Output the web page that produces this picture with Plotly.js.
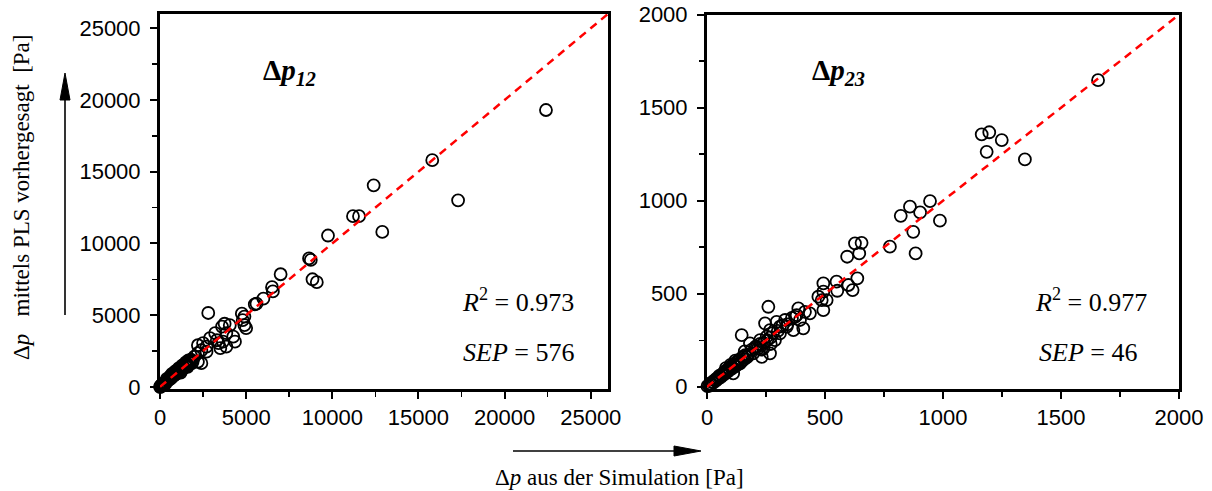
<!DOCTYPE html>
<html>
<head>
<meta charset="utf-8">
<script src="https://cdn.plot.ly/plotly-3.0.1.min.js"></script>
<style>html,body{margin:0;padding:0;background:#fff;}#chart{width:1212px;height:491px;}</style>
</head>
<body>
<div id="chart"></div>
<script>
// ---- Data: Δp12 (left panel) ----
const sim12 = [22400,15800,17300,12400,11200,11550,9750,12900,8650,8750,8850,9100,7000,6500,6550,6000,5600,5500,
  2800,4750,4900,4800,4900,5000,3750,4050,3600,3850,4250,4350,3650,3850,3200,2900,3300,3500,3400,2200,2500,2700,2400,2700,2200,2000,1650,1850,2200,2400,
  0,30,50,70,100,120,150,200,200,250,300,300,350,400,400,450,500,550,600,600,650,700,700,750,800,800,850,900,900,950,1000,1000,1050,1100,1100,1150,1200,1200,1250,1300,1300,1350,1400,1450,1500,1500,1550,1600,1600,1700,1750,1800,1900];
const pls12 = [19300,15800,13000,14050,11900,11900,10550,10800,8950,8850,7500,7300,7850,6950,6650,6150,5800,5750,
  5150,5100,4900,4650,4300,4100,4400,4300,4200,3750,3500,3150,3150,2800,3750,3400,3250,2700,3050,2900,3050,2800,2550,2450,2350,2100,1850,1650,1750,1650,
  0,0,60,100,80,150,170,220,100,230,310,200,330,420,550,440,520,530,640,750,600,720,900,760,780,950,900,870,1100,1000,950,1150,1100,1050,1300,1200,1150,1000,1300,1250,1500,1400,1320,1500,1450,1700,1600,1500,1400,1750,1650,1900,1800];

// ---- Data: Δp23 (right panel) ----
const sim23 = [1657,1164,1196,1249,1185,1347,945,860,903,821,987,874,884,775,627,655,594,645,637,549,599,617,552,493,472,493,486,507,493,387,415,436,394,373,408,331,338,366,260,147,
  246,295,309,267,253,288,225,309,182,211,239,196,168,232,267,
  2,8,12,18,22,28,32,38,42,48,52,58,62,68,72,78,82,88,92,98,102,108,112,118,122,128,132,138,142,148,152,158,162,170,111,140,120,100,80,160,175,190,205,215,225,240,255,270,280,300,320,340,360,380,270,230];
const pls23 = [1648,1357,1368,1326,1263,1222,998,968,937,919,893,833,717,753,771,774,699,717,583,565,547,520,516,556,484,511,466,466,412,421,403,395,359,376,314,359,323,305,430,278,
  341,349,323,305,269,251,251,287,233,215,206,180,161,161,180,
  3,5,15,14,25,24,35,33,45,44,58,52,65,63,78,72,88,82,98,92,108,100,120,110,130,118,140,128,150,138,160,148,170,160,72,126,140,118,100,190,170,200,215,205,230,235,250,265,290,300,330,335,370,385,230,200];

const range12 = [0, 26000];
const range23 = [0, 2000];
const ticks12 = [0,5000,10000,15000,20000,25000];
const tickText12 = ['0','5000','10000','15000','20000','25000'];
const ticks23 = [0,500,1000,1500,2000];
const tickText23 = ['0','500','1000','1500','2000'];

const W = 1212, H = 491;
const px = v => v / W;
const py = v => 1 - v / H;

const marker = {symbol:'circle-open', size:12, color:'#000', line:{color:'#000', width:1.8}};
const diagLine = {color:'#ff0000', width:2.5, dash:'8px,6px'};

const traces = [
  {x: sim12, y: pls12, type:'scatter', mode:'markers', marker: marker, xaxis:'x', yaxis:'y', cliponaxis:false},
  {x: range12, y: range12, type:'scatter', mode:'lines', line: diagLine, xaxis:'x', yaxis:'y'},
  {x: sim23, y: pls23, type:'scatter', mode:'markers', marker: marker, xaxis:'x2', yaxis:'y2', cliponaxis:false},
  {x: range23, y: range23, type:'scatter', mode:'lines', line: diagLine, xaxis:'x2', yaxis:'y2'}
];

const tickFont = {family:'"Liberation Sans", Arial, sans-serif', size:22, color:'#000'};
function ax(extra){
  return Object.assign({
    showline:true, mirror:true, linecolor:'#000', linewidth:3,
    ticks:'outside', ticklen:7, tickwidth:2, tickcolor:'#000',
    showgrid:false, zeroline:false, tickfont:tickFont, fixedrange:true
  }, extra);
}

const serif = '"Liberation Serif", "Times New Roman", serif';
function note(x, y, text, size, extra){
  return Object.assign({xref:'paper', yref:'paper', x:px(x), y:py(y), text:text, showarrow:false,
    xanchor:'center', yanchor:'middle', font:{family:serif, size:size, color:'#000'}}, extra || {});
}
const annotations = [
  note(289, 72, '<b>Δ<i>p</i><sub><i>12</i></sub></b>', 29),
  note(838, 72, '<b>Δ<i>p</i><sub><i>23</i></sub></b>', 29),
  note(518, 300, '<i>R</i><sup>2</sup> = 0.973', 26),
  note(518, 352, '<i>SEP</i> = 576', 26),
  note(1091, 300, '<i>R</i><sup>2</sup> = 0.977', 26),
  note(1088, 352, '<i>SEP</i> = 46', 26),
  note(22, 198, 'Δ<i>p</i>   mittels PLS vorhergesagt  [Pa]', 23, {textangle:-90}),
  note(619, 477, 'Δ<i>p</i> aus der Simulation [Pa]', 23)
];

const shapes = [
  {type:'line', xref:'paper', yref:'paper', x0:px(65), y0:py(315), x1:px(65), y1:py(95), line:{color:'#000', width:1.6}},
  {type:'path', xref:'paper', yref:'paper', path:'M '+px(65)+','+py(73)+' L '+px(60)+','+py(100)+' L '+px(70)+','+py(100)+' Z', fillcolor:'#000', line:{color:'#000', width:1}},
  {type:'line', xref:'paper', yref:'paper', x0:px(513), y0:py(451), x1:px(680), y1:py(451), line:{color:'#000', width:1.6}},
  {type:'path', xref:'paper', yref:'paper', path:'M '+px(701)+','+py(451)+' L '+px(674)+','+py(446)+' L '+px(674)+','+py(456)+' Z', fillcolor:'#000', line:{color:'#000', width:1}}
];

const layout = {
  width: W, height: H,
  margin:{l:0, r:0, t:0, b:0},
  paper_bgcolor:'#fff', plot_bgcolor:'#fff',
  showlegend:false,
  xaxis: ax({domain:[px(160), px(608)], range:[0,26000], tickvals:ticks12, ticktext:tickText12, anchor:'y',
    minor:{ticks:'outside', ticklen:5, tickwidth:1.5, tickcolor:'#000', dtick:2500, showgrid:false}}),
  yaxis: ax({domain:[py(389), py(13.9)], range:[-150,26000], tickvals:ticks12, ticktext:tickText12, anchor:'x', ticklabelstandoff:5,
    minor:{ticks:'outside', ticklen:5, tickwidth:1.5, tickcolor:'#000', dtick:2500, showgrid:false}}),
  xaxis2: ax({domain:[px(707), px(1179)], range:[0,2000], tickvals:ticks23, ticktext:tickText23, anchor:'y2',
    minor:{ticks:'outside', ticklen:5, tickwidth:1.5, tickcolor:'#000', dtick:250, showgrid:false}}),
  yaxis2: ax({domain:[py(389), py(14.7)], range:[-12,2000], tickvals:ticks23, ticktext:tickText23, anchor:'x2', ticklabelstandoff:5,
    minor:{ticks:'outside', ticklen:5, tickwidth:1.5, tickcolor:'#000', dtick:250, showgrid:false}}),
  annotations: annotations,
  shapes: shapes
};

Plotly.newPlot('chart', traces, layout, {staticPlot:true, displayModeBar:false});
</script>
</body>
</html>
